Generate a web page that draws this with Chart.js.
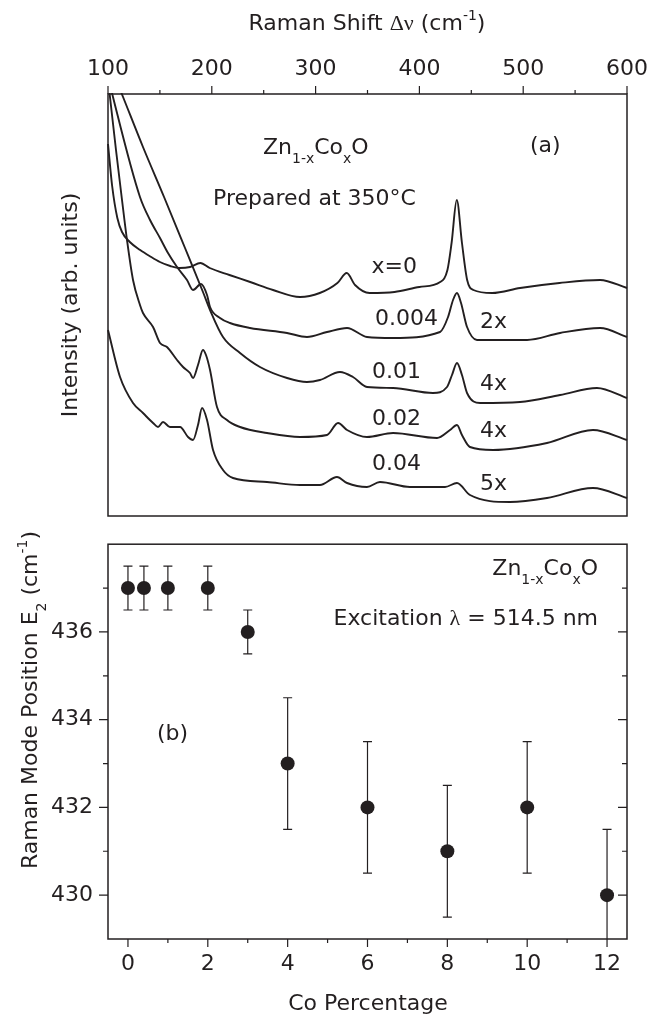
<!DOCTYPE html>
<html lang="en">
<head>
<meta charset="UTF-8">
<title>Zn1-xCoxO Raman spectra</title>
<script src="https://cdn.jsdelivr.net/npm/chart.js@4.4.0/dist/chart.umd.min.js"></script>
<style>
    body { margin: 0; background: #fff; }
    #wrap { position: relative; width: 648px; height: 1017px; }
    #topChart { position: absolute; left: 0; top: 0; }
    #bottomChart { position: absolute; left: 0; top: 516px; }
</style>
</head>
<body>
<div id="wrap">
    <canvas id="topChart" width="648" height="518"></canvas>
    <canvas id="bottomChart" width="648" height="501"></canvas>
</div>
<script>
// ---- panel (a): Raman spectra, intensity in arbitrary units ----
const shiftTicks = [100, 200, 300, 400, 500, 600];
const shiftMinor = [150, 250, 350, 450, 550];

const waveX0 = [100, 104, 109, 113.5, 121, 131, 140, 150, 160, 169, 179, 189, 198, 217, 237, 259, 285, 304, 321, 330, 338, 352, 376, 400, 420, 427, 431, 436, 441, 446, 452, 470, 497, 535, 574, 600];
const intX0  = [372, 330, 298, 284, 274, 266, 260, 254, 250, 248, 249, 253, 248, 241, 234, 226, 219, 223, 233, 243, 231, 223, 224, 229, 234, 246, 273, 316, 273, 236, 226, 223, 228, 233, 236, 228];

const wave004 = [100, 104.8, 130.8, 140.5, 150.1, 157.8, 166.5, 176.1, 181.9, 189.6, 195.4, 198.3, 207.9, 217.5, 236.8, 272.5, 291.7, 311, 330.3, 349.5, 374.6, 419.9, 427.6, 432.4, 436.2, 440.1, 445.9, 455.5, 503.7, 535.5, 574.1, 600];
const int004  = [440, 419, 319, 296, 278, 263, 249, 236, 226, 232, 221, 209, 198, 193, 188, 183, 179, 184, 188, 179, 178, 184, 199, 216, 223, 213, 189, 176, 176, 183, 188, 179];

const wave01 = [106, 114.5, 133.7, 154, 174.2, 191.5, 198.3, 210.8, 227.2, 246.4, 272.5, 291.7, 304.2, 323.5, 336, 349.5, 374.6, 413.1, 426.6, 431.4, 436.2, 441, 445.9, 458.4, 496.9, 535.5, 571.1, 600];
const int01  = [441, 419, 369, 319, 268, 224, 206, 179, 163, 149, 138, 134, 136, 144, 139, 129, 128, 123, 129, 141, 153, 141, 123, 113, 114, 121, 128, 118];

const wave02 = [100, 101.9, 107.7, 113.5, 118.3, 124.1, 130.8, 133.7, 143.4, 150.1, 156.8, 166.5, 172.3, 179, 181.9, 186.7, 191.5, 194.4, 198.3, 205, 214.6, 227.2, 253.2, 285, 311, 321.6, 330.3, 349.5, 374.6, 417, 429.5, 436.2, 441, 448.7, 470.9, 522.9, 567.2, 600];
const int02  = [437, 419, 366, 316, 276, 236, 211, 203, 189, 173, 169, 156, 149, 143, 138, 151, 166, 161, 146, 109, 96, 89, 83, 79, 81, 93, 86, 79, 83, 78, 86, 91, 81, 69, 66, 73, 86, 76];

const wave04 = [100, 111.6, 124.1, 133.7, 143.4, 148.2, 153, 159.7, 169.4, 177.1, 181.9, 186.7, 190.6, 195.4, 201.2, 210.8, 220.4, 253.2, 285, 304.2, 320.6, 330.3, 349.5, 362, 390.9, 424.7, 436.2, 448.7, 487.3, 522.9, 567.2, 600];
const int04  = [186, 139, 113, 103, 93, 89, 94, 89, 89, 79, 76, 91, 108, 96, 66, 46, 38, 34, 31, 31, 39, 33, 29, 34, 29, 29, 33, 21, 14, 18, 28, 18];

// ---- panel (b): E2 mode position vs Co content ----
const coTicks = [0, 2, 4, 6, 8, 10, 12];
const coMinor = [1, 3, 5, 7, 9, 11];
const modeTicks = [430, 432, 434, 436];
const modeMinor = [431, 433, 435, 437];

const coPct   = [0, 0.4, 1, 2, 3, 4, 6, 8, 10, 12];
const modePos = [437, 437, 437, 437, 436, 433, 432, 431, 432, 430];
const modeErr = [0.5, 0.5, 0.5, 0.5, 0.5, 1.5, 1.5, 1.5, 1.5, 1.5];

const INK = '#231f20';
const SANS = '"DejaVu Sans", Verdana, sans-serif';
const SERIF = '"Liberation Serif", "DejaVu Serif", serif';
const FS = 22;
const tickFont = { family: SANS, size: FS };

const ZNCO = [{ t: 'Zn' }, { t: '1-x', sub: 1 }, { t: 'Co' }, { t: 'x', sub: 1 }, { t: 'O' }];

// draws text made of pieces, some of them sub/superscript
function drawRich(ctx, parts, x, y, align) {
    const fontFor = p => (p.sub || p.sup ? Math.round(FS * 0.64) : FS) + 'px ' + (p.serif ? SERIF : SANS);
    let w = 0;
    const widths = parts.map(p => { ctx.font = fontFor(p); const pw = ctx.measureText(p.t).width; w += pw; return pw; });
    let cx = align === 'center' ? x - w / 2 : align === 'right' ? x - w : x;
    ctx.textAlign = 'left';
    ctx.textBaseline = 'alphabetic';
    parts.forEach((p, i) => {
        ctx.font = fontFor(p);
        const dy = p.sub ? FS * 0.4 : p.sup ? -FS * 0.45 : 0;
        ctx.fillText(p.t, cx, y + dy);
        cx += widths[i];
    });
}

function tickMarks(ctx, values, toPx, base, len, alongX) {
    ctx.beginPath();
    values.forEach(v => {
        const p = toPx(v);
        if (alongX) { ctx.moveTo(p, base); ctx.lineTo(p, base + len); }
        else { ctx.moveTo(base, p); ctx.lineTo(base + len, p); }
    });
    ctx.stroke();
}

const topDecor = {
    id: 'topDecor',
    afterDatasetsDraw(chart) {
        const { ctx, chartArea: a, scales: { x } } = chart;
        const px = v => x.getPixelForValue(v);
        ctx.save();
        ctx.strokeStyle = INK;
        ctx.lineWidth = 1.5;
        ctx.strokeRect(a.left, a.top, a.right - a.left, a.bottom - a.top);
        ctx.lineWidth = 1.2;
        tickMarks(ctx, shiftTicks, px, a.top, -8, true);
        tickMarks(ctx, shiftMinor, px, a.top, -4, true);

        ctx.fillStyle = INK;
        drawRich(ctx, [{ t: 'Raman Shift ' }, { t: 'Δν', serif: 1 }, { t: ' (cm' }, { t: '-1', sup: 1 }, { t: ')' }], 367, 30, 'center');
        ctx.save();
        ctx.translate(77, 305);
        ctx.rotate(-Math.PI / 2);
        drawRich(ctx, [{ t: 'Intensity (arb. units)' }], 0, 0, 'center');
        ctx.restore();

        drawRich(ctx, ZNCO, 263, 154, 'left');
        drawRich(ctx, [{ t: 'Prepared at 350°C' }], 213, 205, 'left');
        drawRich(ctx, [{ t: '(a)' }], 530, 152, 'left');
        drawRich(ctx, [{ t: 'x=0' }], 417, 273, 'right');
        drawRich(ctx, [{ t: '0.004' }], 375, 325, 'left');
        drawRich(ctx, [{ t: '2x' }], 480, 328, 'left');
        drawRich(ctx, [{ t: '0.01' }], 372, 378, 'left');
        drawRich(ctx, [{ t: '4x' }], 480, 390, 'left');
        drawRich(ctx, [{ t: '0.02' }], 372, 425, 'left');
        drawRich(ctx, [{ t: '4x' }], 480, 437, 'left');
        drawRich(ctx, [{ t: '0.04' }], 372, 470, 'left');
        drawRich(ctx, [{ t: '5x' }], 480, 490, 'left');
        ctx.restore();
    }
};

const OFF = 516; // page y of the bottom canvas
const bottomDecor = {
    id: 'bottomDecor',
    beforeDatasetsDraw(chart) {
        const { ctx, chartArea: a, scales: { x, y } } = chart;
        ctx.save();
        ctx.beginPath();
        ctx.rect(a.left, a.top, a.right - a.left, a.bottom - a.top);
        ctx.clip();
        ctx.strokeStyle = INK;
        ctx.lineWidth = 1.2;
        coPct.forEach((c, i) => {
            const px = x.getPixelForValue(c);
            const hi = y.getPixelForValue(modePos[i] + modeErr[i]);
            const lo = y.getPixelForValue(modePos[i] - modeErr[i]);
            ctx.beginPath();
            ctx.moveTo(px, hi); ctx.lineTo(px, lo);
            ctx.moveTo(px - 4.5, hi); ctx.lineTo(px + 4.5, hi);
            ctx.moveTo(px - 4.5, lo); ctx.lineTo(px + 4.5, lo);
            ctx.stroke();
        });
        ctx.restore();
    },
    afterDatasetsDraw(chart) {
        const { ctx, chartArea: a, scales: { x, y } } = chart;
        const px = v => x.getPixelForValue(v);
        const py = v => y.getPixelForValue(v);
        ctx.save();
        ctx.strokeStyle = INK;
        ctx.lineWidth = 1.5;
        ctx.strokeRect(a.left, a.top, a.right - a.left, a.bottom - a.top);
        ctx.lineWidth = 1.2;
        tickMarks(ctx, coTicks, px, a.bottom, 8, true);
        tickMarks(ctx, coMinor, px, a.bottom, 4, true);
        tickMarks(ctx, modeTicks, py, a.left, -9, false);
        tickMarks(ctx, modeMinor, py, a.left, -5, false);
        tickMarks(ctx, modeTicks, py, a.right, -9, false);
        tickMarks(ctx, modeMinor, py, a.right, -5, false);

        ctx.fillStyle = INK;
        drawRich(ctx, [{ t: 'Co Percentage' }], 368, 1010 - OFF, 'center');
        ctx.save();
        ctx.translate(37, 700 - OFF);
        ctx.rotate(-Math.PI / 2);
        drawRich(ctx, [{ t: 'Raman Mode Position E' }, { t: '2', sub: 1 }, { t: ' (cm' }, { t: '-1', sup: 1 }, { t: ')' }], 0, 0, 'center');
        ctx.restore();

        drawRich(ctx, ZNCO, 598, 575 - OFF, 'right');
        drawRich(ctx, [{ t: 'Excitation ' }, { t: 'λ', serif: 1 }, { t: ' = 514.5 nm' }], 598, 625 - OFF, 'right');
        drawRich(ctx, [{ t: '(b)' }], 157, 740 - OFF, 'left');
        ctx.restore();
    }
};

const spectra = [
    { wave: waveX0, int: intX0 },
    { wave: wave004, int: int004 },
    { wave: wave01, int: int01 },
    { wave: wave02, int: int02 },
    { wave: wave04, int: int04 }
];

// keep the plot box fixed: no extra room for the edge tick labels
const noEdgePadding = s => { s.paddingLeft = 0; s.paddingRight = 0; };

new Chart(document.getElementById('topChart'), {
    type: 'scatter',
    data: {
        datasets: spectra.map(s => ({
            data: s.wave.map((w, i) => ({ x: w, y: s.int[i] })),
            showLine: true,
            borderColor: INK,
            borderWidth: 1.9,
            pointRadius: 0,
            cubicInterpolationMode: 'monotone',
            clip: 1
        }))
    },
    options: {
        responsive: false,
        animation: false,
        events: [],
        layout: { padding: { left: 108, right: 21, top: 0, bottom: 2 } },
        plugins: { legend: { display: false }, tooltip: { enabled: false } },
        scales: {
            x: {
                type: 'linear', position: 'top', min: 100, max: 600,
                afterBuildTicks: s => { s.ticks = shiftTicks.map(v => ({ value: v })); },
                afterFit: s => { s.height = 94; noEdgePadding(s); },
                grid: { display: false, drawTicks: false },
                border: { display: false },
                ticks: { font: tickFont, color: INK, padding: 12, maxRotation: 0, autoSkip: false }
            },
            y: { display: false, min: 0, max: 422 }
        }
    },
    plugins: [topDecor]
});

new Chart(document.getElementById('bottomChart'), {
    type: 'scatter',
    data: {
        datasets: [{
            data: coPct.map((c, i) => ({ x: c, y: modePos[i] })),
            pointRadius: 7,
            pointBackgroundColor: INK,
            pointBorderWidth: 0
        }]
    },
    options: {
        responsive: false,
        animation: false,
        events: [],
        layout: { padding: { left: 0, right: 21, top: 0, bottom: 0 } },
        plugins: { legend: { display: false }, tooltip: { enabled: false } },
        scales: {
            x: {
                type: 'linear', position: 'bottom', min: -0.5, max: 12.5,
                afterBuildTicks: s => { s.ticks = coTicks.map(v => ({ value: v })); },
                afterFit: s => { s.height = 78; noEdgePadding(s); },
                grid: { display: false, drawTicks: false },
                border: { display: false },
                ticks: { font: tickFont, color: INK, padding: 12, maxRotation: 0, autoSkip: false }
            },
            y: {
                type: 'linear', position: 'left', min: 429, max: 438,
                afterBuildTicks: s => { s.ticks = modeTicks.map(v => ({ value: v })); },
                afterFit: s => { s.width = 108; },
                grid: { display: false, drawTicks: false },
                border: { display: false },
                ticks: { font: tickFont, color: INK, padding: 15 }
            }
        }
    },
    plugins: [bottomDecor]
});
</script>
</body>
</html>
